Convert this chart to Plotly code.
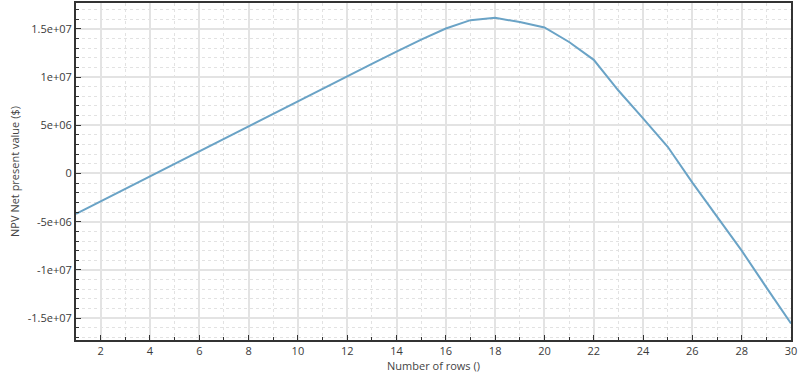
import plotly.graph_objects as go

rows = list(range(1, 31))
npv = [-4.18e6, -2.88e6, -1.59e6, -0.29e6, 1.00e6, 2.30e6, 3.59e6, 4.89e6, 6.18e6, 7.48e6,
       8.77e6, 10.07e6, 11.36e6, 12.62e6, 13.87e6, 15.03e6, 15.89e6, 16.13e6, 15.69e6, 15.13e6,
       13.63e6, 11.78e6, 8.60e6, 5.72e6, 2.77e6, -0.95e6, -4.50e6, -8.00e6, -11.80e6, -15.55e6]

y_tickvals = [-1.5e7, -1e7, -5e6, 0, 5e6, 1e7, 1.5e7]
y_ticktext = ["-1.5e+07", "-1e+07", "-5e+06", "0", "5e+06", "1e+07", "1.5e+07"]
x_tickvals = list(range(2, 31, 2))

font = "Open Sans, Noto Sans, sans-serif"

fig = go.Figure()
fig.add_trace(go.Scatter(x=rows, y=npv, mode="lines",
                         line=dict(color="#6aa3c6", width=2), showlegend=False))

fig.update_layout(
    width=806, height=388,
    margin=dict(l=76, r=15, t=1, b=48),
    paper_bgcolor="white", plot_bgcolor="white",
    font=dict(family=font, size=11, color="#3a3a3a"),
)
fig.update_xaxes(
    range=[1, 30], tickvals=x_tickvals, ticks="inside", ticklen=5, tickcolor="#333",
    showline=True, linecolor="#333", linewidth=2, mirror=True,
    showgrid=True, gridcolor="#e3e3e3", gridwidth=1.5, zeroline=False,
    minor=dict(dtick=1, ticks="inside", ticklen=3, tickcolor="#333",
               showgrid=True, gridcolor="#e2e2e2", griddash="dot", gridwidth=1),
    title=dict(text="Number of rows ()", font=dict(size=11, color="#444"), standoff=4),
)
fig.update_yaxes(
    range=[-17.26e6, 17.67e6], tickvals=y_tickvals, ticktext=y_ticktext,
    ticks="inside", ticklen=5, tickcolor="#333",
    showline=True, linecolor="#333", linewidth=2, mirror=True,
    showgrid=True, gridcolor="#e3e3e3", gridwidth=1.5, zeroline=False,
    minor=dict(dtick=1e6, tick0=0, ticks="inside", ticklen=3, tickcolor="#333",
               showgrid=True, gridcolor="#e2e2e2", griddash="dot", gridwidth=1),
    title=dict(text="NPV Net present value ($)", font=dict(size=11, color="#444"), standoff=6),
)

fig.write_html("out.html")
